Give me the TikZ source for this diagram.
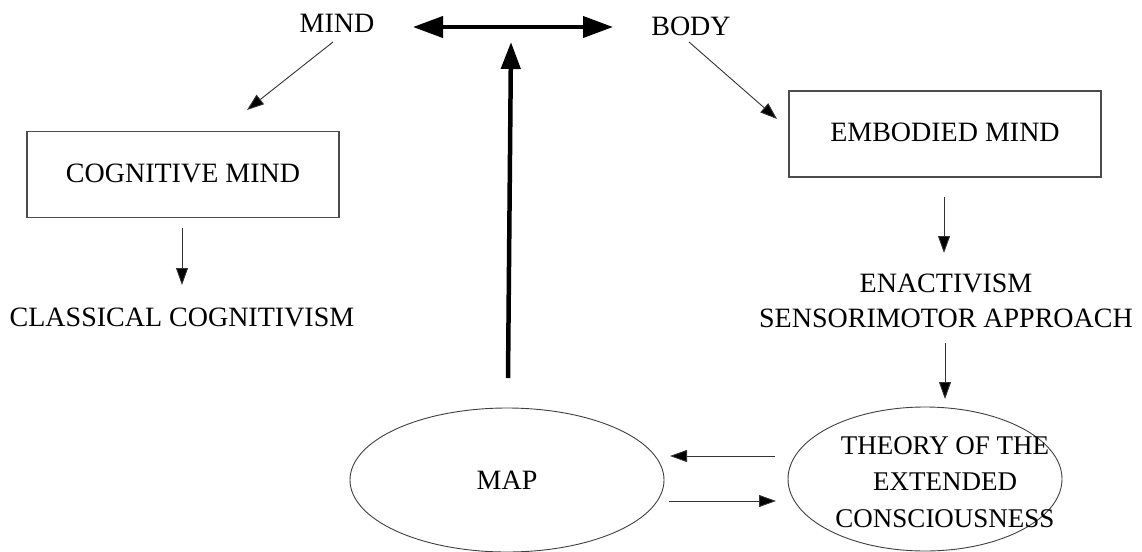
\documentclass[tikz,border=0pt]{standalone}
\usepackage{fontspec}
\setmainfont{Liberation Serif}
\usetikzlibrary{arrows.meta,shapes.geometric}
\begin{document}
\begin{tikzpicture}[x=1pt,y=-1pt,
  txt/.style={font=\fontsize{28}{34}\selectfont, inner sep=0pt, text height=18pt, text depth=0pt},
  etxt/.style={font=\fontsize{27}{36.5}\selectfont, inner sep=0pt, align=center},
  boxnode/.style={draw=black!70, line width=1.1pt, minimum width=312pt, minimum height=86pt, inner sep=0pt},
  ell/.style={ellipse, draw=black!75, line width=0.9pt, inner sep=0pt},
  thinarrow/.style={draw=black!80, line width=0.9pt, -{Triangle[length=17pt,width=12pt,fill=black]}},
  bigarrow/.style={line width=4pt, {Triangle[length=30pt,width=21pt]}-{Triangle[length=30pt,width=21pt]}},
  uparrow/.style={line width=4.5pt, -{Triangle[length=27pt,width=19pt]}}]
\useasboundingbox (0,0) rectangle (1142,551);
\fill[white] (0,0) rectangle (1142,551);

% text nodes
\node[txt] (mind) at (337,24) {MIND};
\node[txt] (body) at (691,27) {BODY};
\node[boxnode] (cog) at (183,174.5) {};
\node[txt] (cogtext) at (183,173) {COGNITIVE MIND};
\node[txt] (classic) at (182,317) {CLASSICAL COGNITIVISM};
\node[boxnode] (emb) at (945,134) {};
\node[txt] (embtext) at (945,132) {EMBODIED MIND};
\node[txt] (enact) at (946,283) {ENACTIVISM};
\node[txt] (senso) at (946,318) {SENSORIMOTOR APPROACH};
\node[ell, minimum width=314pt, minimum height=144pt] (map) at (507,480) {};
\node[txt] (maptext) at (507,480) {MAP};
\node[ell, minimum width=274pt, minimum height=144pt] (theory) at (925,479) {};
\node[etxt] (theorytext) at (945,482) {THEORY OF THE\\EXTENDED\\CONSCIOUSNESS};

% connector end points
\coordinate (mindA) at (333,42);
\coordinate (cogA) at (247,110);
\coordinate (bodyA) at (689,42);
\coordinate (embA) at (777,119);
\coordinate (cogB) at (182,228);
\coordinate (classicA) at (182,285);
\coordinate (embB) at (944,197);
\coordinate (enactA) at (944,253);
\coordinate (sensoB) at (945,343);
\coordinate (theoryA) at (945,399);
\coordinate (theoryL) at (775,456);
\coordinate (mapR) at (670,456);
\coordinate (mapR2) at (669,501);
\coordinate (theoryL2) at (776,501);
\coordinate (mapTop) at (508,378);
\coordinate (bigMid) at (511,42);
\coordinate (bigL) at (413,27);
\coordinate (bigR) at (613,27);

% connectors
\draw[thinarrow] (mindA) -- (cogA);
\draw[thinarrow] (bodyA) -- (embA);
\draw[thinarrow] (cogB) -- (classicA);
\draw[thinarrow] (embB) -- (enactA);
\draw[thinarrow] (sensoB) -- (theoryA);
\draw[thinarrow] (theoryL) -- (mapR);
\draw[thinarrow] (mapR2) -- (theoryL2);
\draw[bigarrow] (bigL) -- (bigR);
\draw[uparrow] (mapTop) -- (bigMid);
\end{tikzpicture}
\end{document}
